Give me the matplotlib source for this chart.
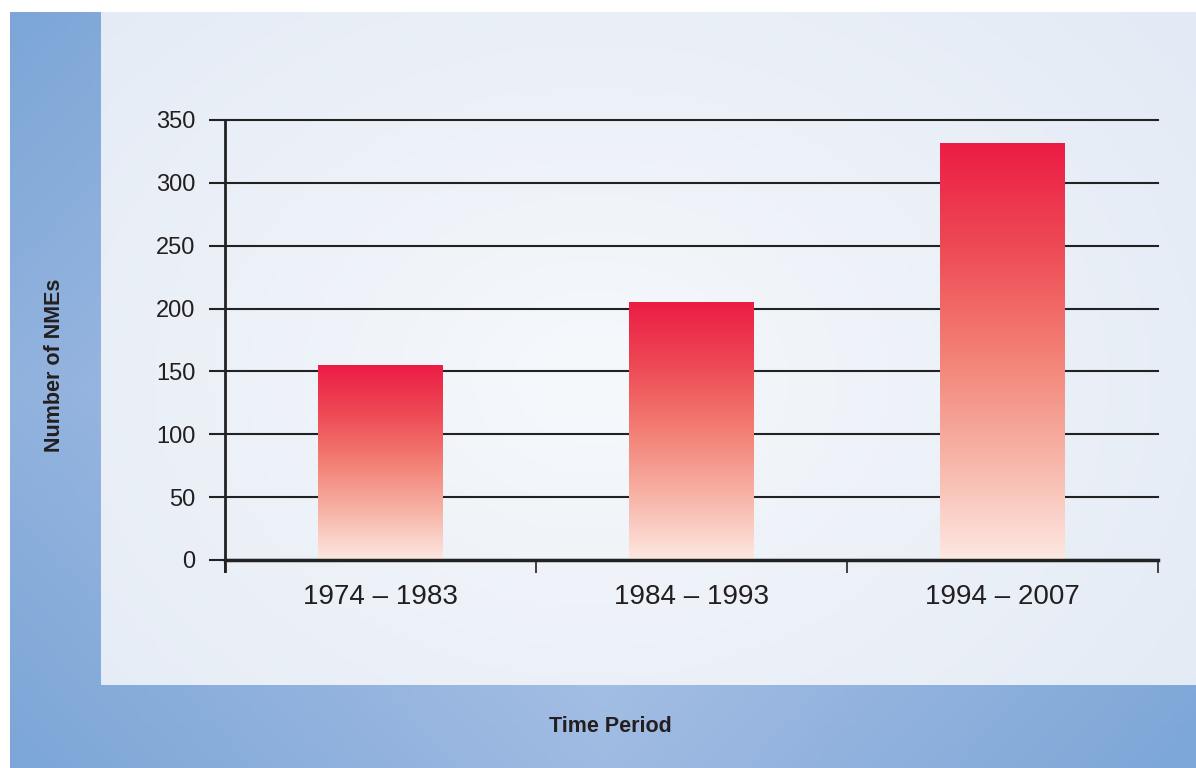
import matplotlib.pyplot as plt
import numpy as np
from matplotlib.colors import LinearSegmentedColormap

periods = ["1974 \u2013 1983", "1984 \u2013 1993", "1994 \u2013 2007"]
nmes = [155, 205, 332]
yticks = [0, 50, 100, 150, 200, 250, 300, 350]

W, H = 1196, 768
fig = plt.figure(figsize=(W / 100, H / 100), dpi=100)
fig.patch.set_facecolor("white")

font = ["Liberation Sans", "DejaVu Sans"]

# blue frame with diagonal gradient
frame = fig.add_axes([10 / W, 0, 1186 / W, 756 / H])
frame.set_axis_off()
yy, xx = np.mgrid[0:1:200j, 0:1:300j]
d = np.abs((xx - 0.5) * 1.0) + np.abs((yy - 0.5) * 0.6)
d = d / d.max()
blue = LinearSegmentedColormap.from_list("b", ["#b3c9e9", "#98b6e0", "#7ca6d7"])
frame.imshow(d, cmap=blue, aspect="auto", extent=[0, 1, 0, 1])
frame.set_xlim(0, 1)
frame.set_ylim(0, 1)

# light inner panel
panel = fig.add_axes([101 / W, (H - 685) / H, 1095 / W, 673 / H])
panel.set_axis_off()
r = np.sqrt(((xx - 0.45) * 1.0) ** 2 + ((yy - 0.55) * 0.8) ** 2)
r = r / r.max()
pale = LinearSegmentedColormap.from_list("p", ["#f6f9fc", "#ecf1f8", "#e3eaf5"])
panel.imshow(r, cmap=pale, aspect="auto", extent=[0, 1, 0, 1])
panel.set_xlim(0, 1)
panel.set_ylim(0, 1)

# main chart
ax = fig.add_axes([225 / W, (H - 560) / H, 933 / W, 440 / H])
ax.patch.set_alpha(0)
x = np.arange(len(periods))
bars = ax.bar(x, nmes, width=0.4, color="none", zorder=2)

red = LinearSegmentedColormap.from_list(
    "r", ["#fde8e2", "#f7b3a6", "#f37f74", "#ee4a55", "#ec1c45"])
grad = np.linspace(0, 1, 256).reshape(-1, 1)
for b in bars:
    x0, w, h = b.get_x(), b.get_width(), b.get_height()
    im = ax.imshow(grad, cmap=red, origin="lower", aspect="auto",
                   extent=[x0, x0 + w, 0, h], zorder=2)
    im.set_clip_path(b)

ax.set_xlim(-0.5, 2.5)
ax.set_ylim(0, 350)
ax.set_yticks(yticks)
ax.set_yticklabels([str(t) for t in yticks], fontsize=17, family=font,
                   color="#231f20")
ax.set_xticks(x)
ax.set_xticklabels(periods, fontsize=20, family=font, color="#231f20")
ax.set_xticks([-0.5, 0.5, 1.5, 2.5], minor=True)
ax.tick_params(axis="x", which="major", length=0, pad=17)
ax.tick_params(axis="x", which="minor", length=9.5, width=1.3, color="#333333")
ax.tick_params(axis="y", length=11.5, width=1.5, color="#222222", pad=10)
ax.grid(axis="y", color="#222222", linewidth=1.5, zorder=1)
ax.set_axisbelow(True)
for gl in ax.get_ygridlines():
    gl.set_clip_on(False)

for s in ["top", "right"]:
    ax.spines[s].set_visible(False)
ax.spines["left"].set_linewidth(2)
ax.spines["left"].set_color("#222222")
ax.spines["left"].set_bounds(-9, 350)
ax.spines["bottom"].set_linewidth(2.5)
ax.spines["bottom"].set_color("#222222")
ax.spines["bottom"].set_zorder(3)

fig.text(55 / W, 1 - 365 / H, "Number of NMEs", rotation=90, ha="center",
         va="center", fontsize=15.5, fontweight="bold", family=font,
         color="#231f20")
fig.text(610 / W, 1 - 727 / H, "Time Period", ha="center", va="center",
         fontsize=15.5, fontweight="bold", family=font, color="#231f20")

fig.savefig("out.png", dpi=100)
